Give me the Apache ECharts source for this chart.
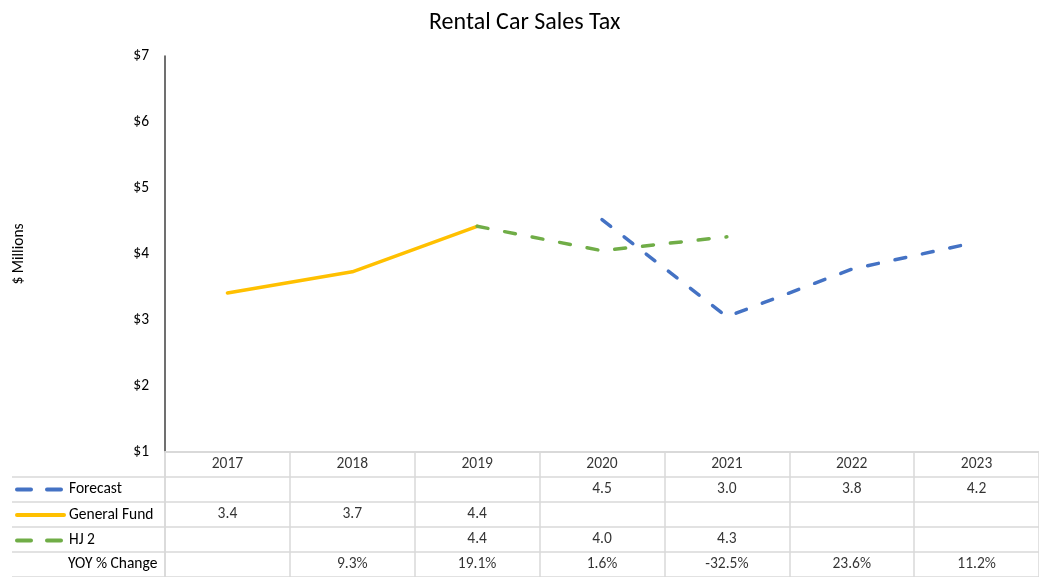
<!DOCTYPE html>
<html>
<head>
<meta charset="utf-8">
<script src="https://cdn.jsdelivr.net/npm/echarts@6/dist/echarts.min.js"></script>
<style>
  html, body { margin: 0; padding: 0; background: #fff; }
  #chart { width: 1039px; height: 577px; }
</style>
</head>
<body>
<div id="chart"></div>
<script>
// 数据
var years = ['2017', '2018', '2019', '2020', '2021', '2022', '2023']
var forecast = [null, null, null, 4.52, 3.05, 3.77, 4.18]
var generalFund = [3.41, 3.73, 4.42, null, null, null, null]
var hj2 = [null, null, 4.42, 4.05, 4.26, null, null]
var yoyChange = ['', '9.3%', '19.1%', '1.6%', '-32.5%', '23.6%', '11.2%']
var rowNames = ['', 'Forecast', 'General Fund', 'HJ 2', 'YOY % Change']

var FONT = 'Carlito, Lato, "Liberation Sans", sans-serif'
var GRID_COLOR = '#d9d9d9'
var TEXT_SIZE = 15.5

// 表格单元格文字
function buildCells () {
  var cells = []
  years.forEach(function (y, i) {
    cells.push([y, rowNames[0], y])
    if (forecast[i] != null) cells.push([y, rowNames[1], forecast[i].toFixed(1)])
    if (generalFund[i] != null) cells.push([y, rowNames[2], generalFund[i].toFixed(1)])
    if (hj2[i] != null) cells.push([y, rowNames[3], hj2[i].toFixed(1)])
    if (yoyChange[i]) cells.push([y, rowNames[4], yoyChange[i]])
  })
  return cells
}

function lineSeries (name, data, color, dashed) {
  return {
    name: name,
    type: 'line',
    data: data,
    xAxisIndex: 0,
    yAxisIndex: 0,
    symbol: 'none',
    connectNulls: false,
    silent: true,
    lineStyle: {
      color: color,
      width: 3.5,
      type: dashed ? [11, 17] : 'solid',
      cap: 'round'
    },
    itemStyle: { color: color }
  }
}

var chart = echarts.init(document.getElementById('chart'))
chart.setOption({
  animation: false,
  textStyle: { fontFamily: FONT },
  title: {
    text: 'Rental Car Sales Tax',
    left: 424,
    top: 6,
    textStyle: { fontSize: 24, fontWeight: 'normal', color: '#000', fontFamily: FONT }
  },
  legend: {
    data: [
      { name: 'Forecast', lineStyle: { type: [14, 16], width: 4 } },
      { name: 'General Fund', lineStyle: { width: 4 } },
      { name: 'HJ 2', lineStyle: { type: [14, 16], width: 4 } }
    ],
    orient: 'vertical',
    left: 15,
    top: 481.5,
    padding: 0,
    itemWidth: 47,
    itemHeight: 16,
    itemGap: 9.5,
    selectedMode: false,
    itemStyle: { opacity: 0 },
    textStyle: { fontSize: TEXT_SIZE, color: '#000', lineHeight: 16, fontFamily: FONT }
  },
  grid: [
    { left: 165, top: 56, width: 884, height: 396 },
    { left: 165, top: 452, width: 884, height: 127.5 }
  ],
  xAxis: [
    {
      type: 'category',
      gridIndex: 0,
      data: years,
      boundaryGap: true,
      axisLine: { show: true, lineStyle: { color: GRID_COLOR, width: 2 } },
      axisTick: { show: false },
      axisLabel: { show: false },
      splitLine: { show: false }
    },
    {
      type: 'category',
      gridIndex: 1,
      data: years,
      boundaryGap: true,
      axisLine: { show: false },
      axisTick: { show: false },
      axisLabel: { show: false },
      splitLine: { show: true, lineStyle: { color: GRID_COLOR, width: 1.5 } }
    }
  ],
  yAxis: [
    {
      type: 'value',
      gridIndex: 0,
      min: 1,
      max: 7,
      interval: 1,
      name: '$ Millions',
      nameLocation: 'middle',
      nameGap: 138,
      nameTextStyle: { fontSize: TEXT_SIZE, color: '#000', fontFamily: FONT },
      axisLine: { show: true, lineStyle: { color: '#404040', width: 1.5 } },
      axisTick: { show: false },
      axisLabel: {
        margin: 16,
        fontSize: TEXT_SIZE,
        color: '#000',
        fontFamily: FONT,
        formatter: function (v) { return '$' + v }
      },
      splitLine: { show: false }
    },
    {
      type: 'category',
      gridIndex: 1,
      data: rowNames,
      inverse: true,
      axisLine: { show: true, lineStyle: { color: GRID_COLOR, width: 1.5 } },
      axisTick: {
        show: true,
        length: 153,
        interval: function (index) { return index > 0 },
        lineStyle: { color: GRID_COLOR, width: 1.5 }
      },
      axisLabel: {
        interval: 0,
        margin: 97,
        align: 'left',
        fontSize: TEXT_SIZE,
        color: '#000',
        fontFamily: FONT,
        formatter: function (v) { return v === 'YOY % Change' ? v : '' }
      },
      splitLine: { show: true, lineStyle: { color: GRID_COLOR, width: 1.5 } }
    }
  ],
  series: [
    lineSeries('Forecast', forecast, '#4472C4', true),
    lineSeries('General Fund', generalFund, '#FFC000', false),
    lineSeries('HJ 2', hj2, '#70AD47', true),
    {
      name: 'cells',
      type: 'scatter',
      xAxisIndex: 1,
      yAxisIndex: 1,
      symbolSize: 0,
      silent: true,
      data: buildCells(),
      label: {
        show: true,
        position: 'inside',
        fontSize: TEXT_SIZE,
        color: '#000',
        fontFamily: FONT,
        formatter: function (p) { return p.data[2] }
      }
    }
  ]
})
</script>
</body>
</html>
